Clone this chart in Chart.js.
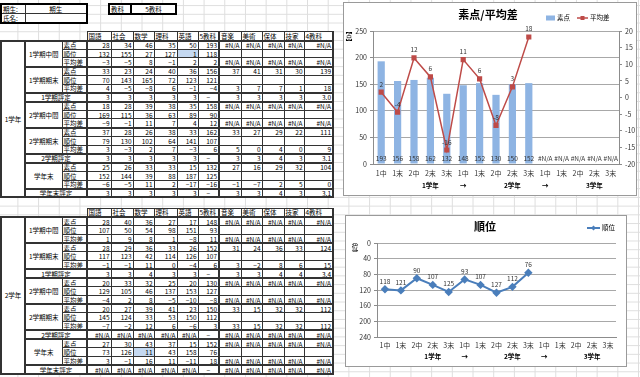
<!DOCTYPE html>
<html lang="ja">
<head>
<meta charset="utf-8">
<script src="https://cdn.jsdelivr.net/npm/chart.js@4.4.1/dist/chart.umd.min.js"></script>
<style>
  html, body { margin: 0; padding: 0; }
  body {
    width: 640px; height: 377px; overflow: hidden; position: relative;
    font-family: "Noto Sans CJK JP", sans-serif;
    background-color: #fff;
    background-image:
      linear-gradient(to right, #dedede 1px, transparent 1px),
      linear-gradient(to bottom, #dedede 1px, transparent 1px);
    background-size: 20.7px 8.72px;
    background-position: 17.4px 5.1px;
  }
  table.sheet {
    position: absolute; left: 0; border-collapse: collapse; table-layout: fixed;
    font-size: 6.5px; line-height: 6px; color: #000;
  }
  table.sheet tr { height: 8.72px; }
  table.sheet td {
    border: 1px solid #333; padding: 0 1px; white-space: nowrap; overflow: hidden;
    text-align: right; background: #fff;
  }
  table.sheet td.nb { border: none; background: transparent; }
  table.sheet td.hd { text-align: left; }
  table.sheet td.ctr { text-align: center; }
  table.sheet td.kind { text-align: left; border-right-width: 2px; }
  table.sheet td.tot { border-right-width: 2px; }
  table.sheet td.last { border-right-width: 2px; }
  table.sheet td.grade { text-align: center; border-left-width: 2px; border-bottom-width: 2px; border-right-width: 2px; }
  table.sheet td.sel { background: #c5d9f1; }
  table.sheet tr.endgrp td { border-bottom-width: 2px; }
  table.sheet tr.hyo td { border-top-width: 2px; border-bottom-width: 2px; }
  table.sheet tr.first td { border-top-width: 2px; }
  table.info { position: absolute; border-collapse: collapse; table-layout: fixed; font-size: 6.5px; line-height: 6px; }
  table.info td { border: 1px solid #333; height: 8px; padding: 0 1px; background: #fff; white-space: nowrap; }
  .box { position: absolute; background: #fff; border: 1px solid #9a9a9a; box-sizing: border-box; }
  .box canvas { position: absolute; left: 0; top: 0; }
</style>
</head>
<body>

<table class="info" style="left:0;top:3px;width:86px;border:2px solid #000">
  <colgroup><col style="width:24px"><col style="width:62px"></colgroup>
  <tr><td>期生:</td><td style="text-align:center">期生</td></tr>
  <tr><td>氏名:</td><td></td></tr>
</table>
<table class="info" style="left:108px;top:3px;width:67px">
  <colgroup><col style="width:22px"><col style="width:45px"></colgroup>
  <tr><td style="border:2px solid #000">教科</td><td style="border:2px solid #000;text-align:center">5教科</td></tr>
</table>

<table class="sheet" id="grade1" style="top:31.3px"></table>
<table class="sheet" id="grade2" style="top:207.8px"></table>

<div class="box" style="left:343px;top:2px;width:294px;height:194px">
  <canvas id="scoreChart" width="292" height="192"></canvas>
</div>
<div class="box" style="left:345px;top:215px;width:282px;height:152px">
  <canvas id="rankChart" width="280" height="150"></canvas>
</div>

<script>
// ---- chart data ----
const periods = ['1中','1末','2中','2末','3末','1中','1末','2中','2末','3末','1中','1末','2中','2末','3末'];
const groupLabels = ['1学年','→','2学年','→','3学年'];
const groupAt     = [3, 5, 8, 10, 13];
const scoreValues = [193, 156, 158, 162, 132, 148, 152, 130, 150, 152, null, null, null, null, null];
const diffValues  = [1.6, -4.4, 11.9, 6.2, -15.8, 11.4, 5.6, -8.4, 3.2, 18.2, null, null, null, null, null];
const rankValues  = [118, 121, 90, 107, 125, 93, 107, 127, 112, 76, null, null, null, null, null];

// ---- sheet data ----
const NA = '#N/A';
const subjects = ['国語','社会','数学','理科','英語','5教科','音楽','美術','保体','技家','4教科'];
const sections = [
  { name: '1学期中間' }, { name: '1学期期末' }, { name: '1学期評定', hyo: true },
  { name: '2学期中間' }, { name: '2学期期末' }, { name: '2学期評定', hyo: true },
  { name: '学年末' },    { name: '学年末評定', hyo: true }
];
const kinds = ['素点','順位','平均差'];
const blank = ['', '', '', '', ''];
const naRow = [NA, NA, NA, NA, NA];

const grade1Rows = [
  [28, 34, 46, 35, 50, 193, ...naRow],
  [132, 155, 27, 127, 1, 118, ...blank],
  [-3, -5, 8, -1, 2, 2, ...naRow],
  [33, 23, 24, 40, 36, 156, 37, 41, 31, 30, 139],
  [70, 143, 165, 72, 123, 121, ...blank],
  [4, -5, -8, 6, -1, -4, 3, 7, 7, 1, 18],
  [3, 3, 3, 3, 3, '−', 3, 3, 3, 3, '3.0'],
  [18, 28, 39, 38, 35, 158, ...naRow],
  [169, 115, 36, 63, 89, 90, ...blank],
  [-9, -1, 11, 7, 4, 12, ...naRow],
  [37, 28, 26, 38, 33, 162, 33, 27, 29, 22, 111],
  [79, 130, 102, 64, 141, 107, ...blank],
  [3, -3, 2, 7, -3, 6, 5, 0, 4, 0, 9],
  [3, 3, 3, 3, 3, '−', 3, 3, 4, 3, '3.1'],
  [25, 26, 33, 33, 15, 132, 27, 16, 29, 32, 104],
  [152, 144, 39, 88, 187, 125, ...blank],
  [-6, -5, 11, 2, -17, -16, -1, -7, 2, 5, 0],
  [3, 3, 3, 3, 3, '−', 3, 3, 4, 3, '3.1']
];
const grade2Rows = [
  [28, 40, 36, 27, 17, 148, ...naRow],
  [107, 50, 54, 98, 151, 93, ...blank],
  [1, 9, 8, 1, -8, 11, ...naRow],
  [28, 29, 36, 33, 26, 152, 31, 24, 36, 33, 124],
  [117, 123, 42, 114, 126, 107, ...blank],
  [-1, -1, 11, 0, -4, 6, 3, -2, 8, 6, 15],
  [3, 3, 4, 3, 3, '−', 3, 3, 4, 4, '3.4'],
  [20, 33, 32, 25, 20, 130, ...naRow],
  [129, 105, 46, 137, 153, 127, ...blank],
  [-4, 2, 8, -5, -10, -8, ...naRow],
  [20, 27, 39, 41, 23, 150, 33, 15, 32, 32, 112],
  [145, 124, 33, 53, 150, 112, ...blank],
  [-7, -2, 12, 6, -6, 3, 33, 15, 32, 32, 112],
  [...naRow, '−', ...naRow],
  [27, 30, 43, 37, 15, 152, ...naRow],
  [73, 126, 11, 43, 158, 76, ...blank],
  [3, -1, 16, 11, -11, 18, ...naRow],
  [...naRow, '−', ...naRow]
];

const colWidths = [24, 37, 25, 24, 22, 21, 23, 21, 21, 22, 21, 22, 20, 29];

function fmt(v) {
  return typeof v === 'number' && v < 0 ? '−' + Math.abs(v) : String(v);
}

function valueCells(vals, rowIdx, sel) {
  return vals.map((v, j) => {
    const cls = [];
    if (j === 5) cls.push('tot');
    if (j === 10) cls.push('last');
    if (sel && sel[0] === rowIdx && sel[1] === j) cls.push('sel');
    if (v === '−') cls.push('ctr');
    return `<td class="${cls.join(' ')}">${fmt(v)}</td>`;
  }).join('');
}

function buildBlock(id, gradeName, rows, sel) {
  let html = '<colgroup>' + colWidths.map(w => `<col style="width:${w}px">`).join('') + '</colgroup>';
  html += '<tr><td class="nb" colspan="3"></td>' +
    subjects.map((s, j) => `<td class="hd${j === 10 ? ' last' : ''}${j === 5 ? ' tot' : ''}">${s}</td>`).join('') + '</tr>';
  let r = 0;
  sections.forEach((sec) => {
    if (sec.hyo) {
      html += `<tr class="hyo"><td colspan="2" class="ctr" style="border-right-width:2px">${sec.name}</td>${valueCells(rows[r], r, sel)}</tr>`;
      r++;
    } else {
      for (let k = 0; k < 3; k++) {
        const cls = [];
        if (r === 0) cls.push('first');
        if (k === 2) cls.push('endgrp');
        let lead = '';
        if (r === 0) lead += `<td rowspan="18" class="grade">${gradeName}</td>`;
        if (k === 0) lead += `<td rowspan="3" class="ctr" style="border-bottom-width:2px">${sec.name}</td>`;
        html += `<tr class="${cls.join(' ')}">${lead}<td class="kind">${kinds[k]}</td>${valueCells(rows[r], r, sel)}</tr>`;
        r++;
      }
    }
  });
  document.getElementById(id).innerHTML = html;
}

buildBlock('grade1', '1学年', grade1Rows, [1, 4]);
buildBlock('grade2', '2学年', grade2Rows, [15, 2]);

// ---- charts ----
Chart.defaults.font.family = '"Noto Sans CJK JP", sans-serif';
Chart.defaults.color = '#333';

const tickFont = { size: 7 };
const axisGray = '#8c8c8c';
const gridGray = '#a8a8a8';

// title, group row, stacked axis caption
const sheetDeco = {
  id: 'sheetDeco',
  afterDraw(chart, args, o) {
    const { ctx, chartArea, scales } = chart;
    ctx.save();
    ctx.textAlign = 'center';
    ctx.textBaseline = 'middle';
    ctx.fillStyle = '#000';
    ctx.font = 'bold 11px "Noto Sans CJK JP"';
    ctx.fillText(o.title, chart.width / 2 + o.titleDx, o.titleY);
    ctx.font = 'bold 6.5px "Noto Sans CJK JP"';
    groupLabels.forEach((g, i) => {
      ctx.fillText(g, scales.x.getPixelForValue(groupAt[i]), chartArea.bottom + o.groupGap);
    });
    ctx.font = '6.5px "Noto Sans CJK JP"';
    o.caption.forEach((c, i) => ctx.fillText(c, o.captionX, chartArea.top + o.captionY + i * 6));
    ctx.restore();
  }
};

new Chart(document.getElementById('scoreChart'), {
  type: 'bar',
  data: {
    labels: periods,
    datasets: [
      {
        type: 'line', label: '平均差', data: diffValues, yAxisID: 'y2', order: 0,
        borderColor: '#be4b48', backgroundColor: '#be4b48', borderWidth: 1.5,
        pointStyle: 'rect', pointRadius: 2.6, tension: 0
      },
      {
        type: 'bar', label: '素点', data: scoreValues, yAxisID: 'y', order: 1,
        backgroundColor: '#8eb4e3', barPercentage: 0.44, categoryPercentage: 1
      }
    ]
  },
  options: {
    responsive: false,
    animation: false,
    layout: { padding: { top: 28, left: 0, right: 0, bottom: 0 } },
    plugins: {
      legend: { display: false },
      tooltip: { enabled: false },
      sheetDeco: { title: '素点/平均差', titleDx: -2, titleY: 12, groupGap: 22, caption: ['︻', '点', '︼'], captionX: 5, captionY: 0 }
    },
    scales: {
      x: {
        grid: { display: false, drawTicks: false },
        border: { color: axisGray },
        ticks: { font: tickFont, padding: 5, maxRotation: 0, autoSkip: false },
        afterFit: s => { s.height = 31; }
      },
      y: {
        position: 'left', min: 0, max: 250,
        ticks: { stepSize: 50, font: tickFont, padding: 3 },
        grid: { color: gridGray, tickLength: 3, tickColor: axisGray },
        border: { color: axisGray },
        afterFit: s => { s.width = 29; }
      },
      y2: {
        position: 'right', min: -20, max: 20,
        ticks: { stepSize: 5, font: tickFont, padding: 3 },
        grid: { drawOnChartArea: false, tickLength: 3, color: axisGray },
        border: { color: axisGray },
        afterFit: s => { s.width = 17; }
      }
    }
  },
  plugins: [sheetDeco, {
    id: 'scoreLabels',
    afterDatasetsDraw(chart) {
      const { ctx, scales } = chart;
      const line = chart.getDatasetMeta(0);
      ctx.save();
      ctx.font = '6.5px "Noto Sans CJK JP"';
      ctx.fillStyle = '#333';
      ctx.textAlign = 'center';
      ctx.textBaseline = 'middle';
      const base = scales.y.getPixelForValue(0) - 5;
      scoreValues.forEach((v, i) => {
        ctx.fillText(v === null ? NA : String(v), scales.x.getPixelForValue(i), base);
      });
      diffValues.forEach((v, i) => {
        if (v === null) return;
        const p = line.data[i];
        ctx.fillText(String(Math.round(v)), p.x, p.y - 8);
      });
      // legend
      ctx.textAlign = 'left';
      ctx.fillStyle = '#8eb4e3';
      ctx.fillRect(202, 12.5, 9, 5);
      ctx.strokeStyle = '#be4b48';
      ctx.lineWidth = 1.5;
      ctx.beginPath(); ctx.moveTo(233, 15); ctx.lineTo(244, 15); ctx.stroke();
      ctx.fillStyle = '#be4b48';
      ctx.fillRect(236.5, 13, 4, 4);
      ctx.fillStyle = '#000';
      ctx.fillText('素点', 213, 15);
      ctx.fillText('平均差', 246, 15);
      ctx.restore();
    }
  }]
});

new Chart(document.getElementById('rankChart'), {
  type: 'line',
  data: {
    labels: periods,
    datasets: [{
      label: '順位', data: rankValues,
      borderColor: '#4a7ebb', backgroundColor: '#4a7ebb', borderWidth: 2,
      pointStyle: 'rectRot', pointRadius: 2.8, tension: 0
    }]
  },
  options: {
    responsive: false,
    animation: false,
    layout: { padding: { top: 27, left: 0, right: 10, bottom: 0 } },
    plugins: {
      legend: { display: false },
      tooltip: { enabled: false },
      sheetDeco: { title: '順位', titleDx: -1, titleY: 11, groupGap: 20, caption: ['︵', '位', '︶'], captionX: 9, captionY: -1 }
    },
    scales: {
      x: {
        offset: true,
        grid: { display: false, drawTicks: false },
        border: { color: axisGray },
        ticks: { font: tickFont, padding: 4, maxRotation: 0, autoSkip: false },
        afterFit: s => { s.height = 29; }
      },
      y: {
        reverse: true, min: 0, max: 240,
        ticks: { stepSize: 40, font: tickFont, padding: 3 },
        grid: { color: gridGray, tickLength: 3, tickColor: axisGray },
        border: { color: axisGray },
        afterFit: s => { s.width = 31; }
      }
    }
  },
  plugins: [sheetDeco, {
    id: 'rankLabels',
    afterDatasetsDraw(chart) {
      const { ctx } = chart;
      const meta = chart.getDatasetMeta(0);
      ctx.save();
      ctx.font = '6.5px "Noto Sans CJK JP"';
      ctx.fillStyle = '#333';
      ctx.textAlign = 'center';
      ctx.textBaseline = 'middle';
      rankValues.forEach((v, i) => {
        if (v === null) return;
        const p = meta.data[i];
        ctx.fillText(String(v), p.x, p.y - 8);
      });
      // legend
      ctx.strokeStyle = '#4a7ebb';
      ctx.lineWidth = 2;
      ctx.beginPath(); ctx.moveTo(241, 12); ctx.lineTo(254, 12); ctx.stroke();
      ctx.fillStyle = '#4a7ebb';
      ctx.beginPath();
      ctx.moveTo(247.5, 9.5); ctx.lineTo(250, 12); ctx.lineTo(247.5, 14.5); ctx.lineTo(245, 12);
      ctx.closePath(); ctx.fill();
      ctx.fillStyle = '#000';
      ctx.textAlign = 'left';
      ctx.fillText('順位', 256, 12);
      ctx.restore();
    }
  }]
});
</script>
</body>
</html>
